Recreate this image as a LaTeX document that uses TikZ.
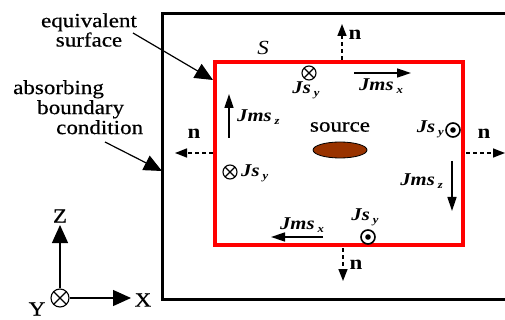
\documentclass[tikz,border=0pt]{standalone}
\usepackage{fontspec}
\setmainfont{Liberation Serif}[FakeStretch=1.15, UprightFeatures={FakeBold=0.5}]
\usepackage{tikz}
\usetikzlibrary{arrows.meta, shapes.geometric}
\newcommand{\cur}[2]{\fontsize{18}{18}\selectfont\textbf{\textit{#1}}\,\raisebox{-3pt}{\fontsize{11}{11}\selectfont\textbf{\textit{#2}}}}

\begin{document}
\begin{tikzpicture}[x=1pt, y=-1pt, every node/.style={font=\fontsize{20}{17}\selectfont, inner sep=0}]
\tikzset{into/.style={circle, draw, line width=1.1pt, minimum size=14pt, inner sep=0,
    path picture={\draw[line width=1.1pt] (path picture bounding box.north west) -- (path picture bounding box.south east)
      (path picture bounding box.north east) -- (path picture bounding box.south west);}},
  outof/.style={circle, draw, line width=1.6pt, minimum size=14pt, inner sep=0,
    path picture={\fill (path picture bounding box.center) circle (2.8pt);}},
  cur/.style={-{Triangle[length=14pt, width=9pt]}, line width=1.5pt},
  nrm/.style={-{Triangle[length=12pt, width=9pt]}, line width=1.5pt, dash pattern=on 4pt off 3pt},
  callout/.style={-{Triangle[length=18pt, width=16pt]}, line width=1.2pt},
  axis/.style={-{Triangle[length=18pt, width=16pt]}, line width=1.2pt},
  nlbl/.style={font=\fontsize{20}{17}\selectfont\bfseries}}
\useasboundingbox (0,0) rectangle (505,320);
% --- boundary and equivalent surface ---
\coordinate (abc) at (162,171);
\draw[line width=3pt] (505,14) -- (162,14) -- (162,299) -- (505,299);
\draw[red, line width=4pt] (215,62) rectangle (463,245);
\node[font=\fontsize{20}{17}\selectfont\itshape] (S) at (263,48) {S};
% --- source ---
\node[ellipse, draw, thick, fill={rgb,255:red,153;green,51;blue,0}, minimum width=54pt, minimum height=16pt] (src) at (340,150) {};
\node (srclbl) at (340,127) {source};
% --- currents on S ---
\node[into] (top) at (309,73) {};
\node (toplbl) at (306,90) {\cur{Js}{y}};
\coordinate (jx1) at (354,73); \coordinate (jx2) at (411,73);
\draw[cur] (jx1) -- (jx2);
\node (jxlbl) at (381,86) {\cur{Jms}{x}};
\coordinate (jz1) at (229,138); \coordinate (jz2) at (229,94);
\draw[cur] (jz1) -- (jz2);
\node[anchor=west] (jzlbl) at (237,117) {\cur{Jms}{z}};
\node[into] (left) at (230,172) {};
\node[anchor=west] (leftlbl) at (241,173) {\cur{Js}{y}};
\node[outof] (right) at (453,130) {};
\node[anchor=east] (rightlbl) at (444,129) {\cur{Js}{y}};
\coordinate (jz3) at (452,161); \coordinate (jz4) at (452,211);
\draw[cur] (jz3) -- (jz4);
\node[anchor=east] (jz2lbl) at (443,181) {\cur{Jms}{z}};
\coordinate (jx3) at (323,237); \coordinate (jx4) at (271,237);
\draw[cur] (jx3) -- (jx4);
\node (jx2lbl) at (302,225) {\cur{Jms}{x}};
\node[outof] (bot) at (368,237) {};
\node (botlbl) at (365,217) {\cur{Js}{y}};
% --- normals ---
\coordinate (nt1) at (342,60); \coordinate (nt2) at (342,24);
\draw[nrm] (nt1) -- (nt2);
\node[nlbl] (ntl) at (355,35) {n};
\coordinate (nl1) at (213,153); \coordinate (nl2) at (175,153);
\draw[nrm] (nl1) -- (nl2);
\node[nlbl] (nll) at (194,134) {n};
\coordinate (nr1) at (466,153); \coordinate (nr2) at (505,153);
\draw[nrm] (nr1) -- (nr2);
\node[nlbl] (nrl) at (484,134) {n};
\coordinate (nb1) at (343,248); \coordinate (nb2) at (343,281);
\draw[nrm] (nb1) -- (nb2);
\node[nlbl] (nbl) at (356,265) {n};
% --- callouts ---
\node[align=center] (eqs) at (89,30) {equivalent\\surface};
\coordinate (corner) at (213,80);
\draw[callout] (133,33) -- (corner);
\node[align=left, anchor=north west, font=\fontsize{20}{20}\selectfont] (abs) at (13,80) {absorbing\\\hspace*{24pt}boundary\\\hspace*{43pt}condition};
\draw[callout] (105,142) -- (abc);
% --- axes ---
\node[into, minimum size=18pt] (o) at (60,298) {};
\coordinate (zt) at (60,225); \coordinate (xt) at (131,298);
\draw[axis] (o) -- (zt);
\draw[axis] (o) -- (xt);
\node (zl) at (60,216) {Z};
\node (xl) at (143,300) {X};
\node (yl) at (37,309) {Y};
\end{tikzpicture}
\end{document}
